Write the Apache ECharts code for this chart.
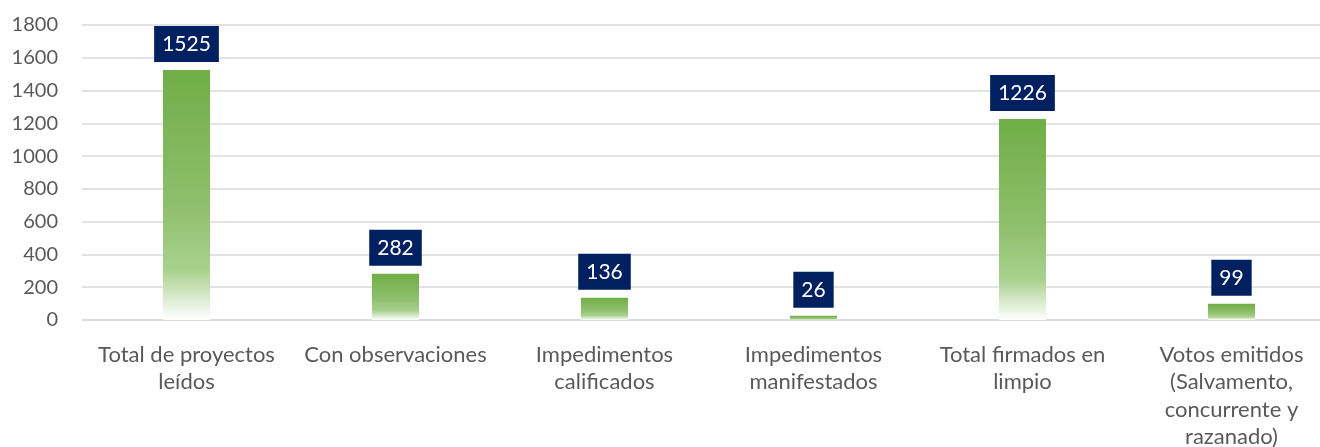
<!DOCTYPE html>
<html>
<head>
<meta charset="utf-8">
<script src="https://cdn.jsdelivr.net/npm/echarts@6/dist/echarts.min.js"></script>
<style>
html,body{margin:0;padding:0;background:#fff;overflow:hidden;width:1320px;height:447px;}
#chart{width:1336px;height:447px;}
</style>
</head>
<body>
<div id="chart"></div>
<script>
const categories = [
  'Total de proyectos\nleídos',
  'Con observaciones',
  'Impedimentos\ncalificados',
  'Impedimentos\nmanifestados',
  'Total firmados en\nlimpio',
  'Votos emitidos\n(Salvamento,\nconcurrente y\nrazanado)'
];
const values = [1525, 282, 136, 26, 1226, 99];
const yTicks = [0, 200, 400, 600, 800, 1000, 1200, 1400, 1600, 1800];

const FONT = 'Lato';
const chart = echarts.init(document.getElementById('chart'), null, {renderer: 'canvas'});
chart.setOption({
  animation: false,
  textStyle: {fontFamily: FONT},
  grid: {left: 82, right: 0, top: 25, bottom: 127, containLabel: false, outerBoundsMode: 'none'},
  xAxis: {
    type: 'category',
    data: categories,
    axisLine: {show: true, lineStyle: {color: '#d9d9d9', width: 1.5}},
    axisTick: {show: false},
    axisLabel: {
      interval: 0, color: '#595959', fontSize: 22, fontFamily: FONT,
      lineHeight: 27.5, margin: 21, align: 'center'
    }
  },
  yAxis: {
    type: 'value',
    min: yTicks[0],
    max: yTicks[yTicks.length - 1],
    interval: yTicks[1] - yTicks[0],
    axisLine: {show: false},
    axisTick: {show: false},
    splitLine: {lineStyle: {color: '#d9d9d9', width: 1.5}},
    axisLabel: {color: '#595959', fontSize: 20, fontFamily: FONT, margin: 24,
      formatter: function (v) { return String(v); }}
  },
  series: [{
    type: 'bar',
    data: values,
    barWidth: 47,
    itemStyle: {
      color: new echarts.graphic.LinearGradient(0, 0, 0, 1, [
        {offset: 0, color: '#70ad47'},
        {offset: 0.55, color: '#8fc06d'},
        {offset: 0.8, color: '#a9d18e'},
        {offset: 1, color: '#ffffff'}
      ])
    },
    label: {
      show: true,
      position: 'top',
      distance: 8,
      color: '#ffffff',
      fontSize: 21,
      fontFamily: FONT,
      backgroundColor: '#002060',
      padding: [8, 8, 7, 8]
    }
  }]
});
</script>
</body>
</html>
